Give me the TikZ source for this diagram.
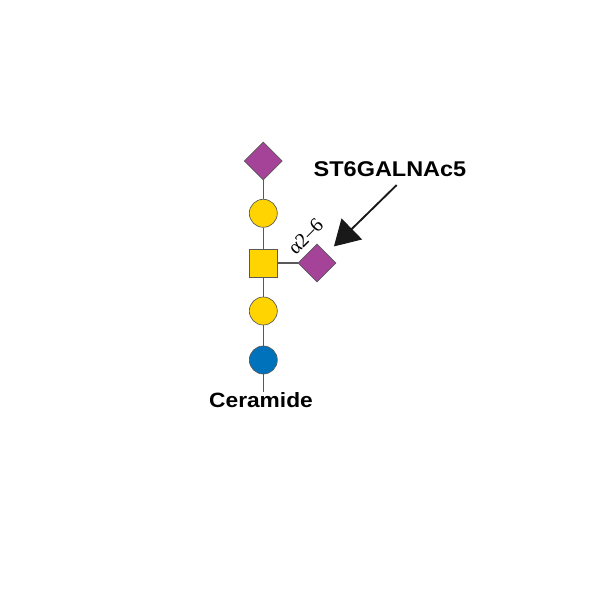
\documentclass[tikz,border=0pt]{standalone}
\usepackage{fontspec}
\setmainfont{Liberation Sans}
\newfontfamily\serifrm{Liberation Serif}
\usetikzlibrary{shapes.geometric,arrows.meta}
\definecolor{snfgpurple}{RGB}{165,67,153}
\definecolor{snfgyellow}{RGB}{255,212,0}
\definecolor{snfgblue}{RGB}{0,114,188}
\begin{document}
\begin{tikzpicture}
                [x=0.75pt, y=-0.75pt,
                 sugar/.style={draw=black!65, line width=0.5pt, inner sep=0pt},
                 sia/.style={sugar, diamond, fill=snfgpurple, minimum size=28.5pt},
                 gal/.style={sugar, circle, fill=snfgyellow, minimum size=21pt},
                 glc/.style={sugar, circle, fill=snfgblue, minimum size=21pt},
                 galnac/.style={sugar, rectangle, fill=snfgyellow, minimum size=21pt},
                 edge/.style={draw, black!65, line width=0.8pt},
                 label/.style={font=\bfseries\fontsize{15.5}{18}\selectfont, inner sep=0pt}]
                \useasboundingbox (0,0) rectangle (600,596);
                % Define nodes
                \node[sia] (Sia 1) at (263.3,161) {};
                \node[gal] (Gal 1) at (263.3,213.3) {};
                \node[galnac] (GalNAc) at (263.3,263) {};
                \node[sia] (Sia 2) at (317,263) {};
                \node[gal] (Gal 2) at (263.3,311) {};
                \node[glc] (Glc) at (263.3,360) {};
                \coordinate (Cer) at (263.3,391.7);
                \node[label, anchor=base] (Ceramide) at (261,407.3) {\scalebox{1.1}[1]{Ceramide}};
                \node[label, anchor=base, font=\bfseries\fontsize{16}{19}\selectfont] (Enzyme) at (390,176) {\scalebox{1.1}[1]{ST6GALNAc5}};
                \node[rotate=45, inner sep=0pt, font=\serifrm\fontsize{15}{18}\selectfont] (Linkage) at (305.5,236.5) {α2–6};
                \coordinate (Arrow start) at (396.7,185);
                % Define edges
                \draw[edge] (Sia 1) -- (Gal 1) -- (GalNAc) -- (Gal 2) -- (Glc) -- (Cer);
                \draw[edge] (GalNAc) -- (Sia 2);
                \draw[line width=1.4pt, black!90, -{Triangle[length=18.8pt, width=21.8pt]}, shorten >=7.5pt] (Arrow start) -- (Sia 2);
            \end{tikzpicture}
\end{document}
